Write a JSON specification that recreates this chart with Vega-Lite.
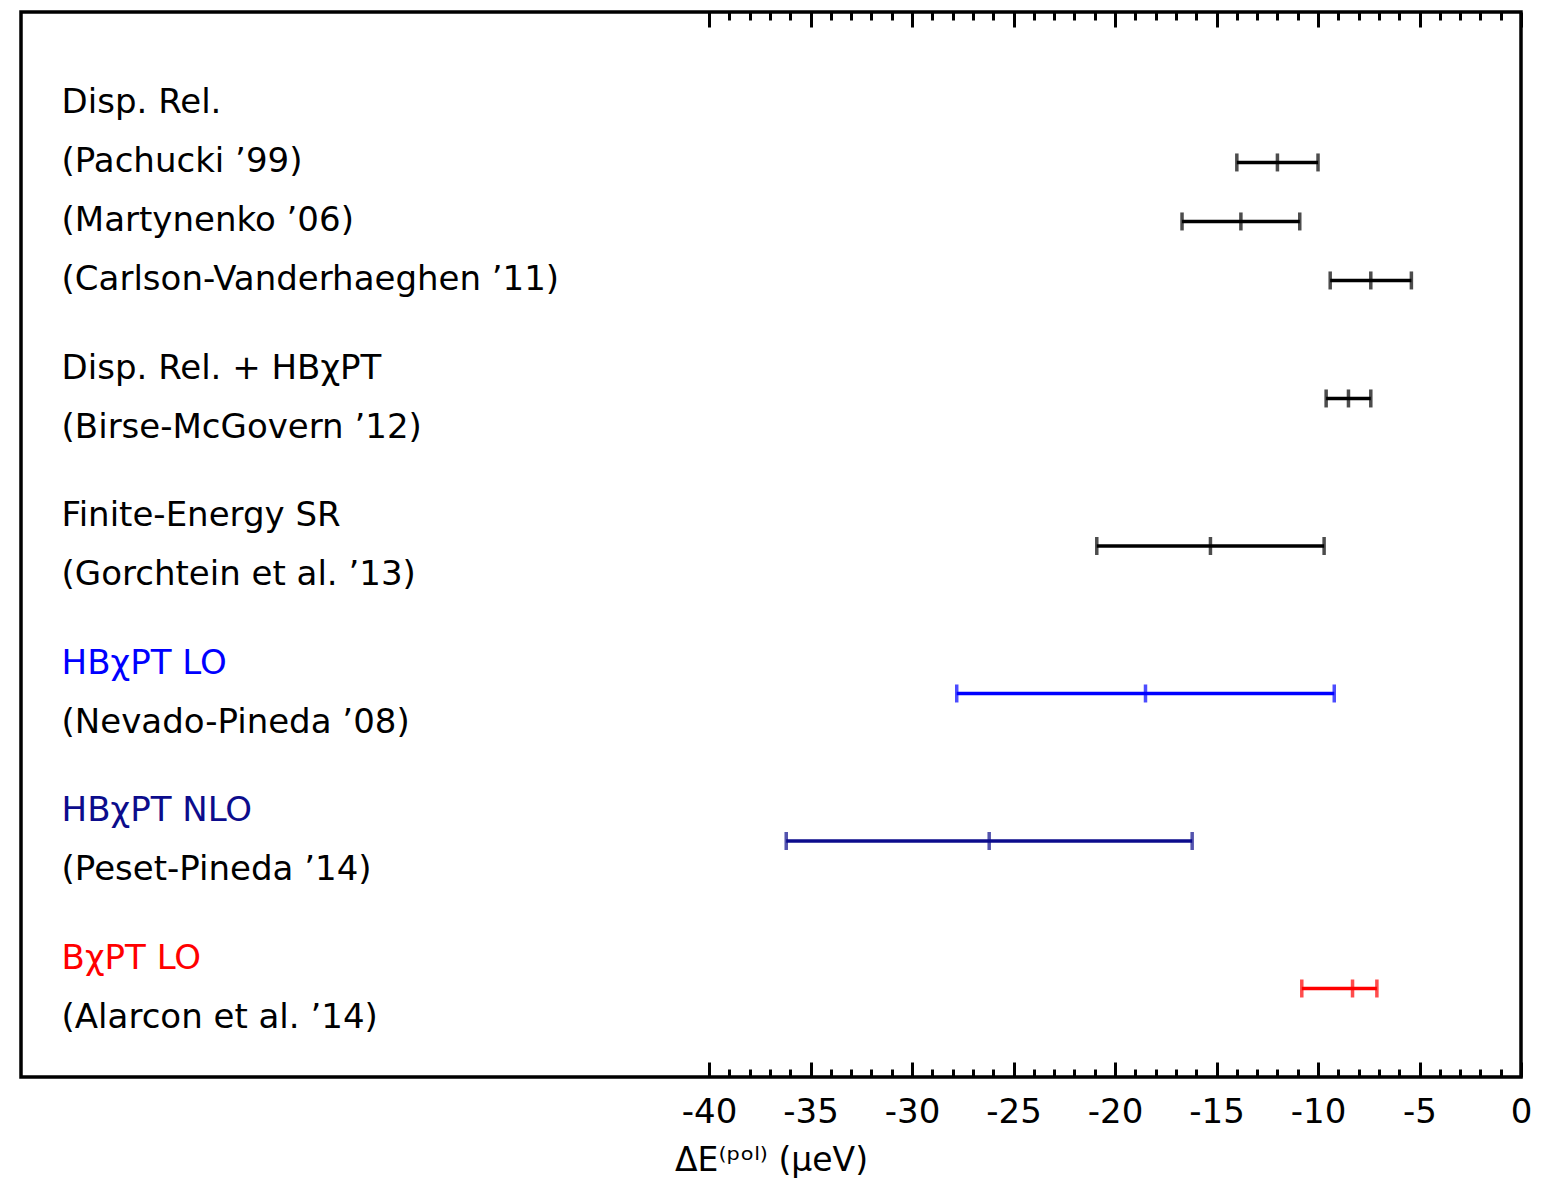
{
  "$schema": "https://vega.github.io/schema/vega-lite/v6.json",
  "width": 1500,
  "height": 1065,
  "autosize": "none",
  "padding": {"left": 21, "top": 12, "right": 23, "bottom": 103},
  "background": "white",
  "config": {
    "view": {"stroke": "black", "strokeWidth": 3.5},
    "font": "DejaVu Sans"
  },
  "datasets": {
    "bars": [
      {"study": "Pachucki '99", "group": "Disp", "lo": -14.0, "center": -12.0, "hi": -10.0, "row": 5},
      {"study": "Martynenko '06", "group": "Disp", "lo": -16.7, "center": -13.8, "hi": -10.9, "row": 7},
      {"study": "Carlson-Vanderhaeghen '11", "group": "Disp", "lo": -9.4, "center": -7.4, "hi": -5.4, "row": 9},
      {"study": "Birse-McGovern '12", "group": "Disp", "lo": -9.6, "center": -8.5, "hi": -7.4, "row": 13},
      {"study": "Gorchtein et al. '13", "group": "Disp", "lo": -20.9, "center": -15.3, "hi": -9.7, "row": 18},
      {"study": "Nevado-Pineda '08", "group": "HBLO", "lo": -27.8, "center": -18.5, "hi": -9.2, "row": 23},
      {"study": "Peset-Pineda '14", "group": "HBNLO", "lo": -36.2, "center": -26.2, "hi": -16.2, "row": 28},
      {"study": "Alarcon et al. '14", "group": "BLO", "lo": -10.8, "center": -8.3, "hi": -7.1, "row": 33}
    ],
    "labels": [
      {"text": "Disp. Rel.", "group": "Disp", "row": 3},
      {"text": "(Pachucki ’99)", "group": "Disp", "row": 5},
      {"text": "(Martynenko ’06)", "group": "Disp", "row": 7},
      {"text": "(Carlson-Vanderhaeghen ’11)", "group": "Disp", "row": 9},
      {"text": "Disp. Rel. + HBχPT", "group": "Disp", "row": 12},
      {"text": "(Birse-McGovern ’12)", "group": "Disp", "row": 14},
      {"text": "Finite-Energy SR", "group": "Disp", "row": 17},
      {"text": "(Gorchtein et al. ’13)", "group": "Disp", "row": 19},
      {"text": "HBχPT LO", "group": "HBLO", "row": 22},
      {"text": "(Nevado-Pineda ’08)", "group": "Disp", "row": 24},
      {"text": "HBχPT NLO", "group": "HBNLO", "row": 27},
      {"text": "(Peset-Pineda ’14)", "group": "Disp", "row": 29},
      {"text": "BχPT LO", "group": "BLO", "row": 32},
      {"text": "(Alarcon et al. ’14)", "group": "Disp", "row": 34}
    ]
  },
  "resolve": {"scale": {"x": "shared", "y": "shared", "color": "shared"}, "axis": {"x": "independent"}},
  "layer": [
    {
      "data": {"name": "bars"},
      "mark": {"type": "rule", "strokeWidth": 3.5},
      "encoding": {
        "x": {
          "field": "lo", "type": "quantitative",
          "scale": {"domain": [-73.9, 0], "nice": false, "zero": false},
          "axis": {
            "orient": "bottom",
            "values": [-40,-39,-38,-37,-36,-35,-34,-33,-32,-31,-30,-29,-28,-27,-26,-25,-24,-23,-22,-21,-20,-19,-18,-17,-16,-15,-14,-13,-12,-11,-10,-9,-8,-7,-6,-5,-4,-3,-2,-1,0],
            "domain": false,
            "grid": false,
            "ticks": true,
            "tickSize": {"condition": {"test": "datum.value % 5 === 0", "value": -15}, "value": -8},
            "tickWidth": 3,
            "tickColor": "black",
            "labelExpr": "datum.value % 5 === 0 ? '' + datum.value : ''",
            "labelFont": "DejaVu Sans",
            "labelFontSize": 34,
            "labelColor": "black",
            "labelPadding": 33,
            "labelFlush": false,
            "labelOverlap": false,
            "title": "ΔE⁽ᵖᵒˡ⁾ (μeV)",
            "titleFont": "DejaVu Sans",
            "titleFontSize": 33,
            "titleFontWeight": "normal",
            "titleColor": "black",
            "titlePadding": 8
          }
        },
        "x2": {"field": "hi"},
        "y": {"field": "row", "type": "quantitative", "scale": {"domain": [-0.1, 36], "reverse": true, "nice": false, "zero": false}, "axis": null},
        "color": {"field": "group", "type": "nominal", "scale": {"domain": ["Disp", "HBLO", "HBNLO", "BLO"], "range": ["#000000", "#0000ff", "#0c0c8c", "#ff0000"]}, "legend": null}
      }
    },
    {
      "data": {"name": "bars"},
      "mark": {"type": "tick", "orient": "vertical", "size": 18, "thickness": 3.5},
      "encoding": {
        "x": {
          "field": "lo", "type": "quantitative",
          "axis": {
            "orient": "top",
            "values": [-40,-39,-38,-37,-36,-35,-34,-33,-32,-31,-30,-29,-28,-27,-26,-25,-24,-23,-22,-21,-20,-19,-18,-17,-16,-15,-14,-13,-12,-11,-10,-9,-8,-7,-6,-5,-4,-3,-2,-1,0],
            "domain": false,
            "grid": false,
            "ticks": true,
            "tickSize": {"condition": {"test": "datum.value % 5 === 0", "value": -15}, "value": -8},
            "tickWidth": 3,
            "tickColor": "black",
            "labels": false,
            "title": null
          }
        },
        "y": {"field": "row", "type": "quantitative"},
        "color": {"field": "group", "type": "nominal", "legend": null}
      }
    },
    {
      "data": {"name": "bars"},
      "mark": {"type": "tick", "orient": "vertical", "size": 18, "thickness": 3.5},
      "encoding": {
        "x": {"field": "center", "type": "quantitative", "axis": null},
        "y": {"field": "row", "type": "quantitative"},
        "color": {"field": "group", "type": "nominal", "legend": null}
      }
    },
    {
      "data": {"name": "bars"},
      "mark": {"type": "tick", "orient": "vertical", "size": 18, "thickness": 3.5},
      "encoding": {
        "x": {"field": "hi", "type": "quantitative", "axis": null},
        "y": {"field": "row", "type": "quantitative"},
        "color": {"field": "group", "type": "nominal", "legend": null}
      }
    },
    {
      "data": {"name": "labels"},
      "mark": {"type": "text", "align": "left", "baseline": "middle", "font": "DejaVu Sans", "fontSize": 34},
      "encoding": {
        "x": {"datum": -71.9, "type": "quantitative", "axis": null},
        "y": {"field": "row", "type": "quantitative"},
        "text": {"field": "text"},
        "color": {"field": "group", "type": "nominal", "legend": null}
      }
    }
  ]
}
